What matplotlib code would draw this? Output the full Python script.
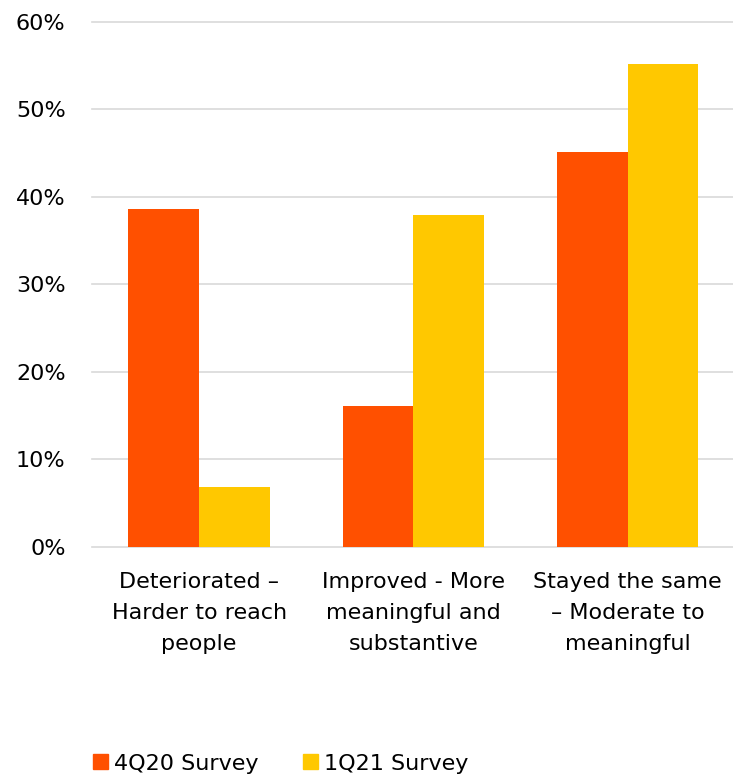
import numpy as np
import matplotlib.pyplot as plt
from matplotlib.patches import Patch

categories = ["Deteriorated –\nHarder to reach\npeople",
              "Improved - More\nmeaningful and\nsubstantive",
              "Stayed the same\n– Moderate to\nmeaningful"]
series_names = ["4Q20 Survey", "1Q21 Survey"]
q4_20 = [0.386, 0.161, 0.451]
q1_21 = [0.069, 0.379, 0.552]
colors = ["#FF5000", "#FFC800"]

plt.rcParams["font.family"] = ["DejaVu Sans"]

fig = plt.figure(figsize=(7.33, 7.78), dpi=100)
ax = fig.add_axes([0.1255, 0.297, 0.877, 0.675])

x = np.arange(len(categories))
w = 0.33
ax.bar(x - w / 2, q4_20, w, color=colors[0], zorder=3)
ax.bar(x + w / 2, q1_21, w, color=colors[1], zorder=3)

ax.set_xlim(-0.5, len(categories) - 0.5)
ax.set_ylim(0, 0.6)
ticks = np.arange(0, 0.61, 0.1)
ax.set_yticks(ticks)
ax.set_yticklabels([f"{int(round(v * 100))}%" for v in ticks])
# gridlines, drawn unclipped so the top and bottom ones show in full
for t in ticks:
    ax.axhline(t, color="#D9D9D9", linewidth=1.2, zorder=1, clip_on=False)
for s in ax.spines.values():
    s.set_visible(False)
ax.tick_params(axis="both", length=0, labelsize=16, labelcolor="#000000")
ax.tick_params(axis="y", pad=19)
ax.set_xticks(x)
ax.set_xticklabels(categories, linespacing=1.7)
ax.tick_params(axis="x", pad=18)

handles = [Patch(color=c) for c in colors]
fig.legend(handles, series_names, loc="lower left", bbox_to_anchor=(0.1, -0.02),
           ncol=2, frameon=False, fontsize=16, handlelength=0.65, handleheight=0.65,
           handletextpad=0.3, columnspacing=2.0)

fig.savefig("out.png", dpi=100)
